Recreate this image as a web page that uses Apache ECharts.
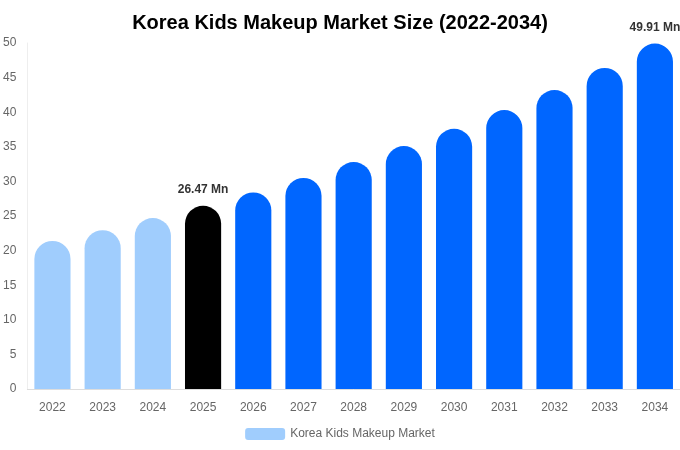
<!DOCTYPE html>
<html>
<head>
<meta charset="utf-8">
<script src="https://cdn.jsdelivr.net/npm/echarts@6/dist/echarts.min.js"></script>
<style>
  html, body { margin: 0; padding: 0; background: #fff; }
  #main { width: 680px; height: 450px; }
</style>
</head>
<body>
<div id="main"></div>
<script>
var years = ['2022', '2023', '2024', '2025', '2026', '2027', '2028', '2029', '2030', '2031', '2032', '2033', '2034'];
var marketSize = [21.4, 22.95, 24.7, 26.47, 28.4, 30.5, 32.8, 35.1, 37.6, 40.3, 43.2, 46.4, 49.91];
var yTicks = [0, 5, 10, 15, 20, 25, 30, 35, 40, 45, 50];
var labelled = ['2025', '2034'];

var pastColor = '#a0cdfd';
var baseColor = '#000000';
var futureColor = '#0066ff';

var chart = echarts.init(document.getElementById('main'));

var barData = marketSize.map(function (v, i) {
  var y = +years[i];
  var color = y < 2025 ? pastColor : (y === 2025 ? baseColor : futureColor);
  return {
    value: v,
    itemStyle: { color: color },
    label: {
      show: labelled.indexOf(years[i]) >= 0,
      position: 'top',
      distance: 10,
      formatter: function (p) { return p.value.toFixed(2) + ' Mn'; },
      fontSize: 12,
      fontWeight: 'bold',
      color: '#333',
      fontFamily: 'Liberation Sans, Arial, sans-serif'
    }
  };
});

chart.setOption({
  backgroundColor: '#fff',
  animation: false,
  title: {
    text: 'Korea Kids Makeup Market Size (2022-2034)',
    left: 'center',
    top: 8,
    textStyle: {
      fontSize: 20,
      fontWeight: 'bold',
      color: '#000',
      fontFamily: 'Liberation Sans, Arial, sans-serif'
    }
  },
  legend: {
    bottom: 5,
    left: 'center',
    itemWidth: 40,
    itemHeight: 12,
    itemGap: 6,
    data: ['Korea Kids Makeup Market'],
    textStyle: { color: '#666', fontSize: 12, fontFamily: 'Liberation Sans, Arial, sans-serif' }
  },
  grid: { left: 27, right: 0, top: 43, bottom: 61, containLabel: false },
  xAxis: {
    type: 'category',
    data: years,
    axisLine: { show: true, lineStyle: { color: '#ddd' } },
    axisTick: { show: false },
    axisLabel: { color: '#666', fontSize: 12, margin: 13, fontFamily: 'Liberation Sans, Arial, sans-serif' }
  },
  yAxis: {
    type: 'value',
    min: yTicks[0],
    max: yTicks[yTicks.length - 1],
    interval: 5,
    axisLine: { show: true, lineStyle: { color: '#eee' } },
    axisTick: { show: false },
    splitLine: { show: false },
    axisLabel: { color: '#666', fontSize: 12, margin: 11, fontFamily: 'Liberation Sans, Arial, sans-serif' }
  },
  series: [{
    name: 'Korea Kids Makeup Market',
    type: 'bar',
    barWidth: '72%',
    itemStyle: { color: pastColor, borderRadius: [18, 18, 0, 0] },
    data: barData
  }]
});
</script>
</body>
</html>
